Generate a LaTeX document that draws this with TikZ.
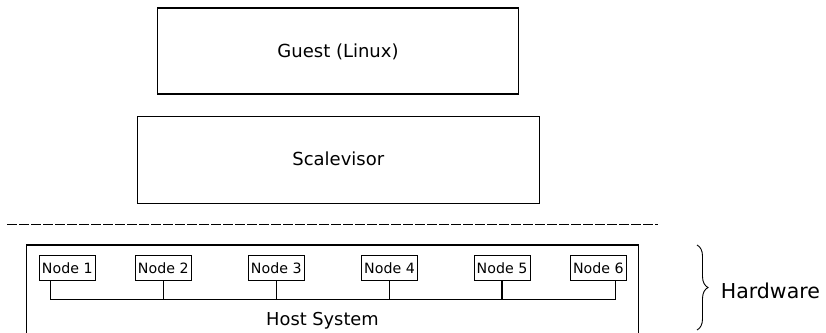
\documentclass[tikz,border=0pt]{standalone}
\usepackage{fontspec}
\setmainfont{DejaVu Sans}
\usetikzlibrary{calc,decorations.pathreplacing}

\tikzset{
  layer/.style={draw, line width=1.2pt, inner sep=0pt},
  hwnode/.style={draw, line width=0.8pt, minimum width=56pt, minimum height=25pt,
                 inner sep=1pt, font=\fontsize{14.2}{16}\selectfont},
  bus/.style={line width=1.2pt},
  label/.style={inner sep=0pt, anchor=base},
}

\begin{document}
\begin{tikzpicture}[x=1pt, y=-1pt]
  \useasboundingbox (0,0) rectangle (826,332);

  % software layers
  \node[layer, minimum width=361pt, minimum height=86pt] (guest) at (338,51) {};
  \node[label, font=\fontsize{18}{20}\selectfont] (guestlbl) at (338,57.3) {Guest (Linux)};
  \node[layer, minimum width=402pt, minimum height=87pt] (scale) at (338.3,159.6) {};
  \node[label, font=\fontsize{18}{20}\selectfont] (scalelbl) at (338.3,165.5) {Scalevisor};

  % separator between software and hardware
  \coordinate (sepL) at (7.3,224.3);
  \coordinate (sepR) at (658,224.3);
  \draw[line width=0.9pt, dash pattern=on 10pt off 2pt] (sepL) -- (sepR);

  % host system frame (runs past the bottom edge)
  \coordinate (hostNW) at (26.7,245);
  \coordinate (hostSE) at (638.7,350);
  \draw[line width=1.2pt] (hostNW) rectangle (hostSE);
  \node[label, font=\fontsize{17.8}{20}\selectfont] (hostlbl) at (322.5,325) {Host System};

  % NUMA nodes
  \node[hwnode] (n1) at (67.3,267.8) {Node 1};
  \node[hwnode] (n2) at (163.3,267.8) {Node 2};
  \node[hwnode] (n3) at (276.3,267.8) {Node 3};
  \node[hwnode] (n4) at (389.5,267.8) {Node 4};
  \node[hwnode] (n5) at (502,267.8) {Node 5};
  \node[hwnode] (n6) at (598.3,267.8) {Node 6};

  % interconnect
  \coordinate (busy) at (0,299.3);
  \coordinate (d1) at ($(n1.south west)!0.2!(n1.south east)$);
  \coordinate (d6) at ($(n6.south west)!0.8!(n6.south east)$);
  \draw[bus] (d1) -- (d1 |- busy) -- (d6 |- busy) -- (d6);
  \foreach \n in {n2,n3,n4,n5}
    \draw[bus] (\n.south) -- (\n.south |- busy);

  % hardware brace
  \coordinate (brT) at (697,245);
  \coordinate (brB) at (697,330);
  \draw[line width=0.9pt, decorate, decoration={brace, amplitude=11pt}] (brT) -- (brB);
  \node[label, anchor=base west, font=\fontsize{20.5}{22}\selectfont] (hwlbl) at (720.7,298.3) {Hardware};
\end{tikzpicture}
\end{document}
